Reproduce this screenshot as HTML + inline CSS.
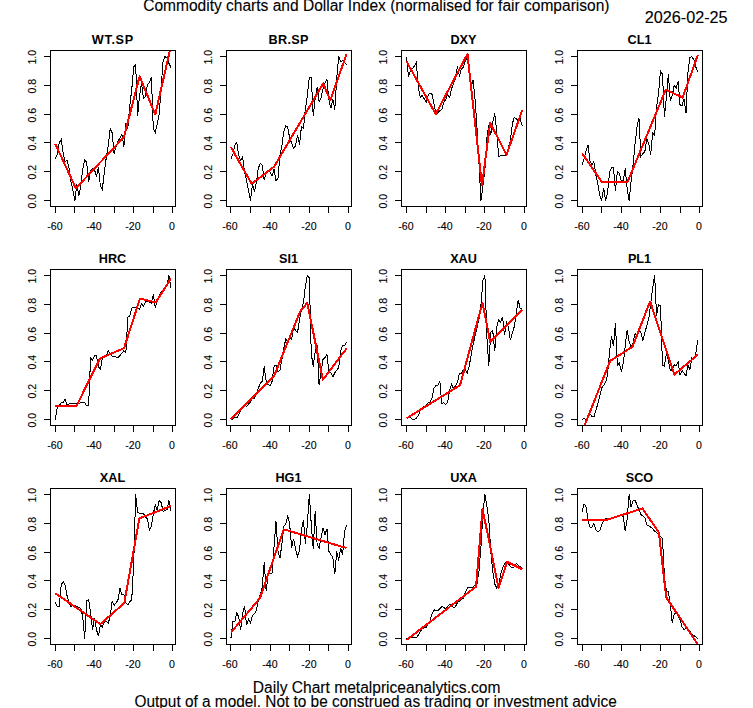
<!DOCTYPE html>
<html><head><meta charset="utf-8"><title>Commodity charts</title>
<style>
html,body{margin:0;padding:0;background:#fff;}
body{width:753px;height:708px;overflow:hidden;}
svg{display:block;}
text{font-family:"Liberation Sans",sans-serif;fill:#000;stroke:#000;stroke-width:0.12px;}
.ax{font-size:10.56px;}
.mt{font-size:12.67px;font-weight:bold;stroke:none;}
.big{font-size:16px;}
.k{stroke:#000;stroke-width:1;fill:none;}
.r{stroke:#f00;stroke-width:2;fill:none;stroke-linejoin:round;stroke-linecap:butt;}
</style></head><body>
<svg width="753" height="708" viewBox="0 0 753 708">
<rect x="0" y="0" width="753" height="708" fill="#fff"/>
<defs>
<clipPath id="c0"><rect x="51" y="51" width="124" height="155"/></clipPath>
<clipPath id="c1"><rect x="227" y="51" width="124" height="155"/></clipPath>
<clipPath id="c2"><rect x="402" y="51" width="124" height="155"/></clipPath>
<clipPath id="c3"><rect x="578" y="51" width="124" height="155"/></clipPath>
<clipPath id="c4"><rect x="51" y="270" width="124" height="155"/></clipPath>
<clipPath id="c5"><rect x="227" y="270" width="124" height="155"/></clipPath>
<clipPath id="c6"><rect x="402" y="270" width="124" height="155"/></clipPath>
<clipPath id="c7"><rect x="578" y="270" width="124" height="155"/></clipPath>
<clipPath id="c8"><rect x="51" y="489" width="124" height="155"/></clipPath>
<clipPath id="c9"><rect x="227" y="489" width="124" height="155"/></clipPath>
<clipPath id="c10"><rect x="402" y="489" width="124" height="155"/></clipPath>
<clipPath id="c11"><rect x="578" y="489" width="124" height="155"/></clipPath>
</defs>
<text class="big" x="143.2" y="10.6" textLength="466.3" lengthAdjust="spacingAndGlyphs">Commodity charts and Dollar Index (normalised for fair comparison)</text>
<text class="big" x="644.8" y="22.6" textLength="82.8" lengthAdjust="spacingAndGlyphs">2026-02-25</text>
<g>
<text class="mt" x="112.5" y="43.6" text-anchor="middle" textLength="41.4" lengthAdjust="spacing">WT.SP</text>
<g clip-path="url(#c0)" shape-rendering="crispEdges">
<polyline class="k" points="55.30,158.74 57.26,154.42 59.22,142.90 61.18,139.44 63.14,152.98 65.10,161.19 67.06,160.61 69.02,167.96 70.98,181.78 72.94,190.42 74.90,200.50 76.86,183.80 78.82,195.60 80.78,186.10 82.74,169.11 84.70,159.75 86.66,162.34 88.62,181.78 90.58,170.26 92.54,168.53 94.50,169.68 96.46,176.45 98.42,166.80 100.38,186.10 102.34,189.41 104.30,172.42 106.26,157.73 108.22,145.35 110.18,128.93 112.14,132.82 114.10,153.56 116.06,146.79 118.02,141.46 119.98,137.72 121.94,134.26 123.90,146.79 125.86,123.03 127.82,128.50 129.78,105.46 131.74,89.62 133.70,67.01 135.66,64.56 137.62,115.68 139.58,95.38 141.54,82.85 143.50,98.69 145.46,96.53 147.42,84.58 149.38,82.85 151.34,76.66 153.30,128.50 155.26,132.53 157.22,124.18 159.18,114.53 161.14,87.46 163.10,60.82 165.06,56.50 167.02,58.23 168.98,63.41 170.94,67.59"/>
<polyline class="r" points="55.30,143.91 75.88,188.26 123.90,137.14 139.58,76.37 155.26,114.53 170.94,45.99"/>
</g>
<path class="k" shape-rendering="crispEdges" d="M50.5 50.5h125v156h-125zM55.5 206.5v6.5M74.5 206.5v6.5M94.5 206.5v6.5M114.5 206.5v6.5M133.5 206.5v6.5M153.5 206.5v6.5M172.5 206.5v6.5M50.5 200.5h-6.5M50.5 171.5h-6.5M50.5 142.5h-6.5M50.5 114.5h-6.5M50.5 85.5h-6.5M50.5 56.5h-6.5"/>
<text class="ax" x="54.9" y="229.5" text-anchor="middle">-60</text>
<text class="ax" x="93.9" y="229.5" text-anchor="middle">-40</text>
<text class="ax" x="132.9" y="229.5" text-anchor="middle">-20</text>
<text class="ax" x="171.9" y="229.5" text-anchor="middle">0</text>
<text class="ax" transform="translate(35.5 201.2) rotate(-90)" text-anchor="middle">0.0</text>
<text class="ax" transform="translate(35.5 172.2) rotate(-90)" text-anchor="middle">0.2</text>
<text class="ax" transform="translate(35.5 143.2) rotate(-90)" text-anchor="middle">0.4</text>
<text class="ax" transform="translate(35.5 115.2) rotate(-90)" text-anchor="middle">0.6</text>
<text class="ax" transform="translate(35.5 86.2) rotate(-90)" text-anchor="middle">0.8</text>
<text class="ax" transform="translate(35.5 57.2) rotate(-90)" text-anchor="middle">1.0</text>
</g>
<g>
<text class="mt" x="288.5" y="43.6" text-anchor="middle" textLength="39.9" lengthAdjust="spacing">BR.SP</text>
<g clip-path="url(#c1)" shape-rendering="crispEdges">
<polyline class="k" points="230.90,158.88 232.86,154.42 234.82,145.35 236.78,142.47 238.74,155.43 240.70,160.61 242.66,156.87 244.62,172.42 246.58,180.34 248.54,190.56 250.50,200.50 252.46,183.80 254.42,191.72 256.38,182.64 258.34,167.96 260.30,163.64 262.26,165.08 264.22,180.34 266.18,172.42 268.14,170.26 270.10,171.84 272.06,175.88 274.02,169.11 275.98,180.34 277.94,178.90 279.90,155.86 281.86,146.07 283.82,131.38 285.78,125.62 287.74,127.06 289.70,138.58 291.66,142.90 293.62,148.37 295.58,145.64 297.54,134.84 299.50,144.48 301.46,126.34 303.42,128.50 305.38,108.92 307.34,95.38 309.30,77.52 311.26,77.52 313.22,115.68 315.18,98.69 317.14,86.74 319.10,101.57 321.06,97.54 323.02,88.61 324.98,82.85 326.94,79.54 328.90,99.70 330.86,108.34 332.82,98.69 334.78,109.49 336.74,78.10 338.70,56.50 340.66,61.40 342.62,60.82 344.58,62.55 346.54,64.56"/>
<polyline class="r" points="230.90,147.08 251.68,183.80 274.02,166.80 323.22,83.43 330.27,100.42 346.54,54.05"/>
</g>
<path class="k" shape-rendering="crispEdges" d="M226.5 50.5h125v156h-125zM230.5 206.5v6.5M250.5 206.5v6.5M270.5 206.5v6.5M289.5 206.5v6.5M309.5 206.5v6.5M328.5 206.5v6.5M348.5 206.5v6.5M226.5 200.5h-6.5M226.5 171.5h-6.5M226.5 142.5h-6.5M226.5 114.5h-6.5M226.5 85.5h-6.5M226.5 56.5h-6.5"/>
<text class="ax" x="229.9" y="229.5" text-anchor="middle">-60</text>
<text class="ax" x="269.9" y="229.5" text-anchor="middle">-40</text>
<text class="ax" x="308.9" y="229.5" text-anchor="middle">-20</text>
<text class="ax" x="347.9" y="229.5" text-anchor="middle">0</text>
<text class="ax" transform="translate(211.5 201.2) rotate(-90)" text-anchor="middle">0.0</text>
<text class="ax" transform="translate(211.5 172.2) rotate(-90)" text-anchor="middle">0.2</text>
<text class="ax" transform="translate(211.5 143.2) rotate(-90)" text-anchor="middle">0.4</text>
<text class="ax" transform="translate(211.5 115.2) rotate(-90)" text-anchor="middle">0.6</text>
<text class="ax" transform="translate(211.5 86.2) rotate(-90)" text-anchor="middle">0.8</text>
<text class="ax" transform="translate(211.5 57.2) rotate(-90)" text-anchor="middle">1.0</text>
</g>
<g>
<text class="mt" x="463.5" y="43.6" text-anchor="middle">DXY</text>
<g clip-path="url(#c2)" shape-rendering="crispEdges">
<polyline class="k" points="406.50,57.51 408.46,76.66 410.42,70.47 412.38,68.74 414.34,66.00 416.30,62.55 418.26,86.31 420.22,97.54 422.18,95.38 424.14,98.69 426.10,102.15 428.06,95.38 430.02,93.08 431.98,94.23 433.94,103.30 435.90,114.10 437.86,112.95 439.82,110.64 441.78,109.49 443.74,102.15 445.70,99.70 447.66,94.80 449.62,97.54 451.58,88.61 453.54,83.43 455.50,78.39 457.46,65.72 459.42,76.66 461.38,68.74 463.34,67.59 465.30,61.11 467.26,56.50 469.22,72.77 471.18,86.31 473.14,80.12 475.10,99.70 477.06,128.50 479.02,164.50 480.98,200.50 482.94,186.10 484.90,170.26 486.86,138.58 488.82,124.90 490.78,134.98 492.74,122.74 494.70,113.52 496.66,130.66 498.62,156.15 500.58,155.86 502.54,155.57 504.50,155.43 506.46,155.00 508.42,147.65 510.38,140.31 512.34,123.89 514.30,117.12 516.26,118.85 518.22,120.58 520.18,118.85 522.14,125.62"/>
<polyline class="r" points="406.50,61.40 435.70,114.10 467.46,54.05 481.96,185.52 490.19,122.74 506.46,155.00 522.14,110.36"/>
</g>
<path class="k" shape-rendering="crispEdges" d="M401.5 50.5h125v156h-125zM406.5 206.5v6.5M426.5 206.5v6.5M445.5 206.5v6.5M465.5 206.5v6.5M484.5 206.5v6.5M504.5 206.5v6.5M524.5 206.5v6.5M401.5 200.5h-6.5M401.5 171.5h-6.5M401.5 142.5h-6.5M401.5 114.5h-6.5M401.5 85.5h-6.5M401.5 56.5h-6.5"/>
<text class="ax" x="405.9" y="229.5" text-anchor="middle">-60</text>
<text class="ax" x="444.9" y="229.5" text-anchor="middle">-40</text>
<text class="ax" x="483.9" y="229.5" text-anchor="middle">-20</text>
<text class="ax" x="523.9" y="229.5" text-anchor="middle">0</text>
<text class="ax" transform="translate(386.5 201.2) rotate(-90)" text-anchor="middle">0.0</text>
<text class="ax" transform="translate(386.5 172.2) rotate(-90)" text-anchor="middle">0.2</text>
<text class="ax" transform="translate(386.5 143.2) rotate(-90)" text-anchor="middle">0.4</text>
<text class="ax" transform="translate(386.5 115.2) rotate(-90)" text-anchor="middle">0.6</text>
<text class="ax" transform="translate(386.5 86.2) rotate(-90)" text-anchor="middle">0.8</text>
<text class="ax" transform="translate(386.5 57.2) rotate(-90)" text-anchor="middle">1.0</text>
</g>
<g>
<text class="mt" x="639.5" y="43.6" text-anchor="middle">CL1</text>
<g clip-path="url(#c3)" shape-rendering="crispEdges">
<polyline class="k" points="582.10,164.50 584.06,158.88 586.02,150.82 587.98,144.77 589.94,161.19 591.90,164.50 593.86,161.76 595.82,174.72 597.78,183.80 599.74,195.03 601.70,200.50 603.66,187.68 605.62,200.50 607.58,192.87 609.54,172.42 611.50,167.67 613.46,167.96 615.42,190.56 617.38,171.84 619.34,173.57 621.30,180.92 623.26,180.34 625.22,168.53 627.18,188.84 629.14,200.50 631.10,181.49 633.06,164.50 635.02,144.20 636.98,127.20 638.94,117.84 640.90,156.29 642.86,153.56 644.82,151.83 646.78,138.72 648.74,143.33 650.70,154.56 652.66,133.11 654.62,135.41 656.58,107.04 658.54,93.08 660.50,71.04 662.46,74.36 664.42,116.84 666.38,97.54 668.34,74.36 670.30,100.42 672.26,95.38 674.22,85.30 676.18,88.61 678.14,81.12 680.10,105.46 682.06,105.46 684.02,98.69 685.98,113.38 687.94,72.77 689.90,57.51 691.86,56.50 693.82,59.67 695.78,67.01 697.74,71.62"/>
<polyline class="r" points="582.10,153.27 602.09,182.36 627.38,182.36 665.79,89.62 682.65,97.54 697.74,55.20"/>
</g>
<path class="k" shape-rendering="crispEdges" d="M577.5 50.5h125v156h-125zM582.5 206.5v6.5M601.5 206.5v6.5M621.5 206.5v6.5M640.5 206.5v6.5M660.5 206.5v6.5M680.5 206.5v6.5M699.5 206.5v6.5M577.5 200.5h-6.5M577.5 171.5h-6.5M577.5 142.5h-6.5M577.5 114.5h-6.5M577.5 85.5h-6.5M577.5 56.5h-6.5"/>
<text class="ax" x="581.9" y="229.5" text-anchor="middle">-60</text>
<text class="ax" x="620.9" y="229.5" text-anchor="middle">-40</text>
<text class="ax" x="659.9" y="229.5" text-anchor="middle">-20</text>
<text class="ax" x="698.9" y="229.5" text-anchor="middle">0</text>
<text class="ax" transform="translate(562.5 201.2) rotate(-90)" text-anchor="middle">0.0</text>
<text class="ax" transform="translate(562.5 172.2) rotate(-90)" text-anchor="middle">0.2</text>
<text class="ax" transform="translate(562.5 143.2) rotate(-90)" text-anchor="middle">0.4</text>
<text class="ax" transform="translate(562.5 115.2) rotate(-90)" text-anchor="middle">0.6</text>
<text class="ax" transform="translate(562.5 86.2) rotate(-90)" text-anchor="middle">0.8</text>
<text class="ax" transform="translate(562.5 57.2) rotate(-90)" text-anchor="middle">1.0</text>
</g>
<g>
<text class="mt" x="112.5" y="262.6" text-anchor="middle">HRC</text>
<g clip-path="url(#c4)" shape-rendering="crispEdges">
<polyline class="k" points="55.30,419.50 57.26,407.26 59.22,405.68 61.18,402.51 63.14,402.22 65.10,399.34 67.06,404.52 69.02,403.95 70.98,403.95 72.94,403.95 74.90,403.95 76.86,403.95 78.82,403.37 80.78,402.51 82.74,402.22 84.70,402.80 86.66,405.68 88.62,405.68 90.58,357.58 92.54,360.32 94.50,355.56 96.46,355.85 98.42,366.65 100.38,369.39 102.34,358.01 104.30,357.29 106.26,355.56 108.22,350.67 110.18,353.26 112.14,356.43 114.10,356.57 116.06,357.00 118.02,357.58 119.98,355.42 121.94,353.12 123.90,350.81 125.86,352.54 127.82,317.26 129.78,316.11 131.74,308.04 133.70,307.61 135.66,307.61 137.62,307.61 139.58,309.20 141.54,303.58 143.50,306.46 145.46,301.85 147.42,300.84 149.38,302.43 151.34,303.00 153.30,294.51 155.26,307.61 157.22,300.12 159.18,296.24 161.14,292.20 163.10,290.04 165.06,286.59 167.02,283.71 168.98,275.50 170.94,287.74"/>
<polyline class="r" points="55.30,406.11 76.47,405.96 99.99,358.44 124.10,348.08 139.97,298.54 155.85,302.43 170.94,278.38"/>
</g>
<path class="k" shape-rendering="crispEdges" d="M50.5 269.5h125v156h-125zM55.5 425.5v6.5M74.5 425.5v6.5M94.5 425.5v6.5M114.5 425.5v6.5M133.5 425.5v6.5M153.5 425.5v6.5M172.5 425.5v6.5M50.5 419.5h-6.5M50.5 390.5h-6.5M50.5 361.5h-6.5M50.5 333.5h-6.5M50.5 304.5h-6.5M50.5 275.5h-6.5"/>
<text class="ax" x="54.9" y="448.5" text-anchor="middle">-60</text>
<text class="ax" x="93.9" y="448.5" text-anchor="middle">-40</text>
<text class="ax" x="132.9" y="448.5" text-anchor="middle">-20</text>
<text class="ax" x="171.9" y="448.5" text-anchor="middle">0</text>
<text class="ax" transform="translate(35.5 420.2) rotate(-90)" text-anchor="middle">0.0</text>
<text class="ax" transform="translate(35.5 391.2) rotate(-90)" text-anchor="middle">0.2</text>
<text class="ax" transform="translate(35.5 362.2) rotate(-90)" text-anchor="middle">0.4</text>
<text class="ax" transform="translate(35.5 334.2) rotate(-90)" text-anchor="middle">0.6</text>
<text class="ax" transform="translate(35.5 305.2) rotate(-90)" text-anchor="middle">0.8</text>
<text class="ax" transform="translate(35.5 276.2) rotate(-90)" text-anchor="middle">1.0</text>
</g>
<g>
<text class="mt" x="288.5" y="262.6" text-anchor="middle">SI1</text>
<g clip-path="url(#c5)" shape-rendering="crispEdges">
<polyline class="k" points="230.90,416.91 232.86,419.50 234.82,416.91 236.78,418.06 238.74,415.18 240.70,409.56 242.66,406.11 244.62,405.10 246.58,406.68 248.54,403.95 250.50,402.22 252.46,398.19 254.42,398.76 256.38,393.72 258.34,388.11 260.30,383.50 262.26,381.34 264.22,366.51 266.18,381.34 268.14,384.65 270.10,385.80 272.06,381.34 274.02,366.51 275.98,364.92 277.94,371.69 279.90,370.54 281.86,359.74 283.82,348.22 285.78,338.86 287.74,341.45 289.70,338.14 291.66,339.29 293.62,327.92 295.58,330.22 297.54,332.52 299.50,320.00 301.46,309.77 303.42,303.00 305.38,286.01 307.34,275.50 309.30,277.66 311.26,353.26 313.22,366.65 315.18,351.39 317.14,344.62 319.10,385.37 321.06,372.70 323.02,359.31 324.98,357.58 326.94,354.27 328.90,372.84 330.86,372.84 332.82,376.88 334.78,372.84 336.74,370.11 338.70,367.80 340.66,351.39 342.62,345.20 344.58,345.77 346.54,341.74"/>
<polyline class="r" points="230.90,419.50 274.22,375.58 300.09,311.50 307.34,302.86 322.82,379.76 346.54,348.51"/>
</g>
<path class="k" shape-rendering="crispEdges" d="M226.5 269.5h125v156h-125zM230.5 425.5v6.5M250.5 425.5v6.5M270.5 425.5v6.5M289.5 425.5v6.5M309.5 425.5v6.5M328.5 425.5v6.5M348.5 425.5v6.5M226.5 419.5h-6.5M226.5 390.5h-6.5M226.5 361.5h-6.5M226.5 333.5h-6.5M226.5 304.5h-6.5M226.5 275.5h-6.5"/>
<text class="ax" x="229.9" y="448.5" text-anchor="middle">-60</text>
<text class="ax" x="269.9" y="448.5" text-anchor="middle">-40</text>
<text class="ax" x="308.9" y="448.5" text-anchor="middle">-20</text>
<text class="ax" x="347.9" y="448.5" text-anchor="middle">0</text>
<text class="ax" transform="translate(211.5 420.2) rotate(-90)" text-anchor="middle">0.0</text>
<text class="ax" transform="translate(211.5 391.2) rotate(-90)" text-anchor="middle">0.2</text>
<text class="ax" transform="translate(211.5 362.2) rotate(-90)" text-anchor="middle">0.4</text>
<text class="ax" transform="translate(211.5 334.2) rotate(-90)" text-anchor="middle">0.6</text>
<text class="ax" transform="translate(211.5 305.2) rotate(-90)" text-anchor="middle">0.8</text>
<text class="ax" transform="translate(211.5 276.2) rotate(-90)" text-anchor="middle">1.0</text>
</g>
<g>
<text class="mt" x="463.5" y="262.6" text-anchor="middle">XAU</text>
<g clip-path="url(#c6)" shape-rendering="crispEdges">
<polyline class="k" points="406.50,418.06 408.46,416.91 410.42,417.48 412.38,419.21 414.34,419.50 416.30,418.06 418.26,415.76 420.22,410.72 422.18,407.84 424.14,406.68 426.10,406.11 428.06,402.80 430.02,402.22 431.98,398.19 433.94,388.11 435.90,385.80 437.86,385.80 439.82,380.76 441.78,403.37 443.74,402.80 445.70,404.52 447.66,402.22 449.62,389.69 451.58,384.65 453.54,388.68 455.50,385.80 457.46,382.35 459.42,373.42 461.38,373.42 463.34,369.39 465.30,369.39 467.26,372.84 469.22,366.08 471.18,354.70 473.14,344.62 475.10,335.55 477.06,327.63 479.02,318.70 480.98,304.30 482.94,280.40 484.90,275.50 486.86,336.70 488.82,365.50 490.78,332.24 492.74,330.51 494.70,351.39 496.66,327.63 498.62,319.56 500.58,322.16 502.54,316.68 504.50,335.12 506.46,321.58 508.42,327.34 510.38,340.30 512.34,333.10 514.30,326.62 516.26,313.23 518.22,300.12 520.18,308.62 522.14,308.04"/>
<polyline class="r" points="406.50,418.35 460.01,385.23 482.55,302.86 490.19,341.88 522.14,310.06"/>
</g>
<path class="k" shape-rendering="crispEdges" d="M401.5 269.5h125v156h-125zM406.5 425.5v6.5M426.5 425.5v6.5M445.5 425.5v6.5M465.5 425.5v6.5M484.5 425.5v6.5M504.5 425.5v6.5M524.5 425.5v6.5M401.5 419.5h-6.5M401.5 390.5h-6.5M401.5 361.5h-6.5M401.5 333.5h-6.5M401.5 304.5h-6.5M401.5 275.5h-6.5"/>
<text class="ax" x="405.9" y="448.5" text-anchor="middle">-60</text>
<text class="ax" x="444.9" y="448.5" text-anchor="middle">-40</text>
<text class="ax" x="483.9" y="448.5" text-anchor="middle">-20</text>
<text class="ax" x="523.9" y="448.5" text-anchor="middle">0</text>
<text class="ax" transform="translate(386.5 420.2) rotate(-90)" text-anchor="middle">0.0</text>
<text class="ax" transform="translate(386.5 391.2) rotate(-90)" text-anchor="middle">0.2</text>
<text class="ax" transform="translate(386.5 362.2) rotate(-90)" text-anchor="middle">0.4</text>
<text class="ax" transform="translate(386.5 334.2) rotate(-90)" text-anchor="middle">0.6</text>
<text class="ax" transform="translate(386.5 305.2) rotate(-90)" text-anchor="middle">0.8</text>
<text class="ax" transform="translate(386.5 276.2) rotate(-90)" text-anchor="middle">1.0</text>
</g>
<g>
<text class="mt" x="639.5" y="262.6" text-anchor="middle">PL1</text>
<g clip-path="url(#c7)" shape-rendering="crispEdges">
<polyline class="k" points="582.10,419.50 584.06,418.06 586.02,419.50 587.98,418.06 589.94,414.03 591.90,416.33 593.86,416.91 595.82,410.72 597.78,403.95 599.74,396.03 601.70,388.11 603.66,385.23 605.62,382.35 607.58,374.43 609.54,351.82 611.50,336.41 613.46,346.06 615.42,323.45 617.38,365.50 619.34,363.20 621.30,371.69 623.26,363.20 625.22,346.06 627.18,329.64 629.14,341.45 631.10,347.21 633.06,342.60 635.02,333.53 636.98,335.98 638.94,330.22 640.90,332.38 642.86,340.30 644.82,333.10 646.78,325.61 648.74,318.84 650.70,303.00 652.66,288.32 654.62,275.50 656.58,315.53 658.54,304.30 660.50,306.17 662.46,364.92 664.42,366.08 666.38,353.69 668.34,360.46 670.30,370.68 672.26,369.53 674.22,364.92 676.18,365.50 678.14,362.19 680.10,375.15 682.06,370.68 684.02,372.84 685.98,376.30 687.94,364.92 689.90,369.53 691.86,358.16 693.82,359.31 695.78,353.69 697.74,339.58"/>
<polyline class="r" points="582.10,431.74 610.13,360.89 632.47,346.78 650.11,301.42 674.42,374.57 697.74,354.70"/>
</g>
<path class="k" shape-rendering="crispEdges" d="M577.5 269.5h125v156h-125zM582.5 425.5v6.5M601.5 425.5v6.5M621.5 425.5v6.5M640.5 425.5v6.5M660.5 425.5v6.5M680.5 425.5v6.5M699.5 425.5v6.5M577.5 419.5h-6.5M577.5 390.5h-6.5M577.5 361.5h-6.5M577.5 333.5h-6.5M577.5 304.5h-6.5M577.5 275.5h-6.5"/>
<text class="ax" x="581.9" y="448.5" text-anchor="middle">-60</text>
<text class="ax" x="620.9" y="448.5" text-anchor="middle">-40</text>
<text class="ax" x="659.9" y="448.5" text-anchor="middle">-20</text>
<text class="ax" x="698.9" y="448.5" text-anchor="middle">0</text>
<text class="ax" transform="translate(562.5 420.2) rotate(-90)" text-anchor="middle">0.0</text>
<text class="ax" transform="translate(562.5 391.2) rotate(-90)" text-anchor="middle">0.2</text>
<text class="ax" transform="translate(562.5 362.2) rotate(-90)" text-anchor="middle">0.4</text>
<text class="ax" transform="translate(562.5 334.2) rotate(-90)" text-anchor="middle">0.6</text>
<text class="ax" transform="translate(562.5 305.2) rotate(-90)" text-anchor="middle">0.8</text>
<text class="ax" transform="translate(562.5 276.2) rotate(-90)" text-anchor="middle">1.0</text>
</g>
<g>
<text class="mt" x="112.5" y="481.6" text-anchor="middle">XAL</text>
<g clip-path="url(#c8)" shape-rendering="crispEdges">
<polyline class="k" points="55.30,602.50 57.26,606.53 59.22,606.53 61.18,584.93 63.14,581.62 65.10,585.51 67.06,595.73 69.02,602.50 70.98,606.53 72.94,605.38 74.90,605.38 76.86,606.53 78.82,607.68 80.78,608.26 82.74,616.61 84.70,638.50 86.66,600.34 88.62,599.76 90.58,612.72 92.54,629.72 94.50,618.34 96.46,629.72 98.42,635.91 100.38,625.11 102.34,626.84 104.30,621.80 106.26,621.22 108.22,623.52 110.18,616.18 112.14,601.06 114.10,605.38 116.06,603.08 118.02,599.62 119.98,588.39 121.94,594.58 123.90,594.00 125.86,603.08 127.82,604.80 129.78,601.92 131.74,599.62 133.70,563.62 135.66,494.50 137.62,512.50 139.58,513.22 141.54,513.22 143.50,513.51 145.46,516.96 147.42,518.69 149.38,530.50 151.34,526.61 153.30,514.08 155.26,504.44 157.22,510.20 159.18,500.55 161.14,502.71 163.10,511.20 165.06,510.77 167.02,509.62 168.98,500.55 170.94,510.77"/>
<polyline class="r" points="55.30,593.28 100.38,624.10 124.29,603.08 139.38,518.40 170.94,506.02"/>
</g>
<path class="k" shape-rendering="crispEdges" d="M50.5 488.5h125v156h-125zM55.5 644.5v6.5M74.5 644.5v6.5M94.5 644.5v6.5M114.5 644.5v6.5M133.5 644.5v6.5M153.5 644.5v6.5M172.5 644.5v6.5M50.5 638.5h-6.5M50.5 609.5h-6.5M50.5 580.5h-6.5M50.5 552.5h-6.5M50.5 523.5h-6.5M50.5 494.5h-6.5"/>
<text class="ax" x="54.9" y="667.5" text-anchor="middle">-60</text>
<text class="ax" x="93.9" y="667.5" text-anchor="middle">-40</text>
<text class="ax" x="132.9" y="667.5" text-anchor="middle">-20</text>
<text class="ax" x="171.9" y="667.5" text-anchor="middle">0</text>
<text class="ax" transform="translate(35.5 639.2) rotate(-90)" text-anchor="middle">0.0</text>
<text class="ax" transform="translate(35.5 610.2) rotate(-90)" text-anchor="middle">0.2</text>
<text class="ax" transform="translate(35.5 581.2) rotate(-90)" text-anchor="middle">0.4</text>
<text class="ax" transform="translate(35.5 553.2) rotate(-90)" text-anchor="middle">0.6</text>
<text class="ax" transform="translate(35.5 524.2) rotate(-90)" text-anchor="middle">0.8</text>
<text class="ax" transform="translate(35.5 495.2) rotate(-90)" text-anchor="middle">1.0</text>
</g>
<g>
<text class="mt" x="288.5" y="481.6" text-anchor="middle">HG1</text>
<g clip-path="url(#c9)" shape-rendering="crispEdges">
<polyline class="k" points="230.90,638.50 232.86,621.22 234.82,621.80 236.78,612.72 238.74,617.19 240.70,630.29 242.66,612.72 244.62,606.53 246.58,625.11 248.54,619.49 250.50,622.95 252.46,615.60 254.42,613.88 256.38,610.42 258.34,600.34 260.30,594.58 262.26,586.66 264.22,562.18 266.18,591.27 268.14,574.28 270.10,573.70 272.06,572.98 274.02,546.92 275.98,521.28 277.94,550.95 279.90,558.29 281.86,544.61 283.82,526.04 285.78,524.31 287.74,515.24 289.70,524.74 291.66,547.49 293.62,538.71 295.58,549.22 297.54,556.56 299.50,550.95 301.46,529.92 303.42,520.42 305.38,543.46 307.34,524.74 309.30,494.50 311.26,524.31 313.22,548.64 315.18,511.35 317.14,544.61 319.10,548.07 321.06,537.84 323.02,528.20 324.98,534.53 326.94,528.77 328.90,551.38 330.86,554.84 332.82,557.14 334.78,574.42 336.74,551.38 338.70,560.45 340.66,548.07 342.62,554.84 344.58,531.08 346.54,525.46"/>
<polyline class="r" points="230.90,632.60 259.91,598.18 283.82,529.35 346.54,548.07"/>
</g>
<path class="k" shape-rendering="crispEdges" d="M226.5 488.5h125v156h-125zM230.5 644.5v6.5M250.5 644.5v6.5M270.5 644.5v6.5M289.5 644.5v6.5M309.5 644.5v6.5M328.5 644.5v6.5M348.5 644.5v6.5M226.5 638.5h-6.5M226.5 609.5h-6.5M226.5 580.5h-6.5M226.5 552.5h-6.5M226.5 523.5h-6.5M226.5 494.5h-6.5"/>
<text class="ax" x="229.9" y="667.5" text-anchor="middle">-60</text>
<text class="ax" x="269.9" y="667.5" text-anchor="middle">-40</text>
<text class="ax" x="308.9" y="667.5" text-anchor="middle">-20</text>
<text class="ax" x="347.9" y="667.5" text-anchor="middle">0</text>
<text class="ax" transform="translate(211.5 639.2) rotate(-90)" text-anchor="middle">0.0</text>
<text class="ax" transform="translate(211.5 610.2) rotate(-90)" text-anchor="middle">0.2</text>
<text class="ax" transform="translate(211.5 581.2) rotate(-90)" text-anchor="middle">0.4</text>
<text class="ax" transform="translate(211.5 553.2) rotate(-90)" text-anchor="middle">0.6</text>
<text class="ax" transform="translate(211.5 524.2) rotate(-90)" text-anchor="middle">0.8</text>
<text class="ax" transform="translate(211.5 495.2) rotate(-90)" text-anchor="middle">1.0</text>
</g>
<g>
<text class="mt" x="463.5" y="481.6" text-anchor="middle">UXA</text>
<g clip-path="url(#c10)" shape-rendering="crispEdges">
<polyline class="k" points="406.50,638.50 408.46,638.21 410.42,637.64 412.38,637.64 414.34,637.64 416.30,637.64 418.26,635.33 420.22,631.44 422.18,629.14 424.14,627.41 426.10,627.41 428.06,624.10 430.02,620.64 431.98,613.88 433.94,609.84 435.90,610.42 437.86,610.42 439.82,608.69 441.78,606.68 443.74,607.11 445.70,609.27 447.66,606.53 449.62,604.23 451.58,605.38 453.54,607.68 455.50,606.53 457.46,602.50 459.42,601.35 461.38,599.76 463.34,598.04 465.30,592.42 467.26,588.10 469.22,587.52 471.18,587.52 473.14,587.24 475.10,584.93 477.06,583.78 479.02,570.82 480.98,546.34 482.94,513.22 484.90,494.50 486.86,506.16 488.82,519.84 490.78,551.38 492.74,570.82 494.70,583.78 496.66,587.81 498.62,585.22 500.58,574.71 502.54,567.94 504.50,564.05 506.46,562.32 508.42,563.48 510.38,566.79 512.34,567.94 514.30,566.79 516.26,563.48 518.22,565.20 520.18,566.79 522.14,567.94"/>
<polyline class="r" points="406.50,639.94 476.08,586.66 482.55,508.90 498.62,588.10 507.05,561.75 522.14,569.38"/>
</g>
<path class="k" shape-rendering="crispEdges" d="M401.5 488.5h125v156h-125zM406.5 644.5v6.5M426.5 644.5v6.5M445.5 644.5v6.5M465.5 644.5v6.5M484.5 644.5v6.5M504.5 644.5v6.5M524.5 644.5v6.5M401.5 638.5h-6.5M401.5 609.5h-6.5M401.5 580.5h-6.5M401.5 552.5h-6.5M401.5 523.5h-6.5M401.5 494.5h-6.5"/>
<text class="ax" x="405.9" y="667.5" text-anchor="middle">-60</text>
<text class="ax" x="444.9" y="667.5" text-anchor="middle">-40</text>
<text class="ax" x="483.9" y="667.5" text-anchor="middle">-20</text>
<text class="ax" x="523.9" y="667.5" text-anchor="middle">0</text>
<text class="ax" transform="translate(386.5 639.2) rotate(-90)" text-anchor="middle">0.0</text>
<text class="ax" transform="translate(386.5 610.2) rotate(-90)" text-anchor="middle">0.2</text>
<text class="ax" transform="translate(386.5 581.2) rotate(-90)" text-anchor="middle">0.4</text>
<text class="ax" transform="translate(386.5 553.2) rotate(-90)" text-anchor="middle">0.6</text>
<text class="ax" transform="translate(386.5 524.2) rotate(-90)" text-anchor="middle">0.8</text>
<text class="ax" transform="translate(386.5 495.2) rotate(-90)" text-anchor="middle">1.0</text>
</g>
<g>
<text class="mt" x="639.5" y="481.6" text-anchor="middle">SCO</text>
<g clip-path="url(#c11)" shape-rendering="crispEdges">
<polyline class="k" points="582.10,511.78 584.06,503.86 586.02,506.74 587.98,519.84 589.94,527.04 591.90,527.04 593.86,523.30 595.82,529.92 597.78,531.65 599.74,530.50 601.70,524.88 603.66,520.42 605.62,518.40 607.58,519.56 609.54,518.98 611.50,518.26 613.46,517.68 615.42,517.11 617.38,516.39 619.34,515.81 621.30,515.24 623.26,516.39 625.22,531.08 627.18,518.69 629.14,494.50 631.10,507.32 633.06,500.55 635.02,499.97 636.98,505.01 638.94,509.62 640.90,514.66 642.86,515.81 644.82,517.54 646.78,524.88 648.74,526.04 650.70,527.19 652.66,528.77 654.62,531.08 656.58,532.66 658.54,534.82 660.50,536.55 662.46,538.71 664.42,576.00 666.38,591.27 668.34,591.27 670.30,604.95 672.26,622.66 674.22,614.31 676.18,612.58 678.14,615.89 680.10,620.21 682.06,626.98 684.02,629.57 685.98,628.28 687.94,629.57 689.90,631.30 691.86,633.75 693.82,635.62 695.78,637.06 697.74,638.50"/>
<polyline class="r" points="582.10,520.42 605.62,520.13 642.47,508.47 658.93,532.52 666.18,597.32 697.74,644.26"/>
</g>
<path class="k" shape-rendering="crispEdges" d="M577.5 488.5h125v156h-125zM582.5 644.5v6.5M601.5 644.5v6.5M621.5 644.5v6.5M640.5 644.5v6.5M660.5 644.5v6.5M680.5 644.5v6.5M699.5 644.5v6.5M577.5 638.5h-6.5M577.5 609.5h-6.5M577.5 580.5h-6.5M577.5 552.5h-6.5M577.5 523.5h-6.5M577.5 494.5h-6.5"/>
<text class="ax" x="581.9" y="667.5" text-anchor="middle">-60</text>
<text class="ax" x="620.9" y="667.5" text-anchor="middle">-40</text>
<text class="ax" x="659.9" y="667.5" text-anchor="middle">-20</text>
<text class="ax" x="698.9" y="667.5" text-anchor="middle">0</text>
<text class="ax" transform="translate(562.5 639.2) rotate(-90)" text-anchor="middle">0.0</text>
<text class="ax" transform="translate(562.5 610.2) rotate(-90)" text-anchor="middle">0.2</text>
<text class="ax" transform="translate(562.5 581.2) rotate(-90)" text-anchor="middle">0.4</text>
<text class="ax" transform="translate(562.5 553.2) rotate(-90)" text-anchor="middle">0.6</text>
<text class="ax" transform="translate(562.5 524.2) rotate(-90)" text-anchor="middle">0.8</text>
<text class="ax" transform="translate(562.5 495.2) rotate(-90)" text-anchor="middle">1.0</text>
</g>
<text class="big" x="252.8" y="692.7" textLength="247.6" lengthAdjust="spacingAndGlyphs">Daily Chart metalpriceanalytics.com</text>
<text class="big" x="134.5" y="706.6" textLength="482.2" lengthAdjust="spacingAndGlyphs">Output of a model. Not to be construed as trading or investment advice</text>
</svg>
</body></html>
